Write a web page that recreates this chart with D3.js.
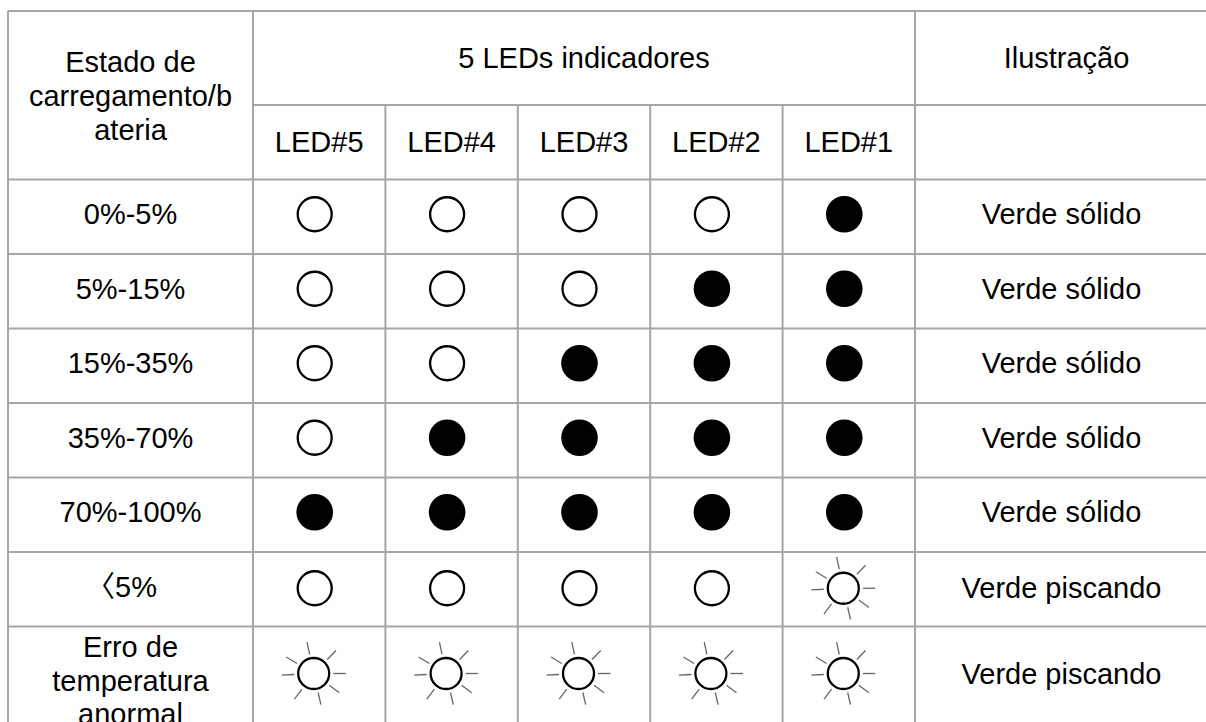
<!DOCTYPE html>
<html>
<head>
<meta charset="utf-8">
<script src="https://cdn.jsdelivr.net/npm/d3@7"></script>
<style>
  html, body { margin: 0; padding: 0; background: #fff; }
  svg { display: block; }
  text { font-family: "Liberation Sans", Arial, "Noto Sans CJK SC", sans-serif; fill: #000; }
</style>
</head>
<body>
<svg id="chart" width="1206" height="722"></svg>
<script>
// ---- data ----
const headerState = ["Estado de", "carregamento/b", "ateria"];
const headerGroup = "5 LEDs indicadores";
const headerIllustration = "Ilustração";
const ledLabels = ["LED#5", "LED#4", "LED#3", "LED#2", "LED#1"];
const rowLabels = [["0%-5%"], ["5%-15%"], ["15%-35%"], ["35%-70%"], ["70%-100%"], ["〈5%"], ["Erro de", "temperatura", "anormal"]];
// LED state per row, in LED#5..LED#1 order: 0 = off, 1 = solid on, 2 = blinking
const ledStates = [
  [0, 0, 0, 0, 1],
  [0, 0, 0, 1, 1],
  [0, 0, 1, 1, 1],
  [0, 1, 1, 1, 1],
  [1, 1, 1, 1, 1],
  [0, 0, 0, 0, 2],
  [2, 2, 2, 2, 2]
];
const illustration = ["Verde sólido", "Verde sólido", "Verde sólido", "Verde sólido", "Verde sólido", "Verde piscando", "Verde piscando"];

(function () {
// ---- layout ----
const svg = d3.select("#chart");
const tLeft = 8, tTop = 11, colStateR = 253, colLedR = 915, rightEdge = 1222;
const headSplit = 105, headBottom = 179.5;
const rowH = 74.5, lastRowH = 100;
const fs = 29;
const lineCol = "#a6a6a6";

const x = d3.scaleBand().domain(ledLabels).range([colStateR, colLedR]);
const rowIdx = d3.range(rowLabels.length);
const rowTop = i => headBottom + i * rowH;
const rowHeight = i => (i === rowLabels.length - 1 ? lastRowH : rowH);
const tBottom = rowTop(rowLabels.length - 1) + lastRowH;

const g = svg.append("g");

// grid lines
const gl = g.append("g").attr("stroke", lineCol).attr("stroke-width", 2).attr("fill", "none");
gl.append("line").attr("x1", tLeft).attr("x2", rightEdge).attr("y1", tTop).attr("y2", tTop);
gl.append("line").attr("x1", colStateR).attr("x2", rightEdge).attr("y1", headSplit).attr("y2", headSplit);
rowIdx.forEach(i => {
  gl.append("line").attr("x1", tLeft).attr("x2", rightEdge).attr("y1", rowTop(i)).attr("y2", rowTop(i));
});
gl.append("line").attr("x1", tLeft).attr("x2", rightEdge).attr("y1", tBottom).attr("y2", tBottom);
[tLeft, colStateR, colLedR, rightEdge].forEach(v => {
  gl.append("line").attr("x1", v).attr("x2", v).attr("y1", tTop).attr("y2", tBottom);
});
ledLabels.slice(1).forEach(l => {
  gl.append("line").attr("x1", x(l)).attr("x2", x(l)).attr("y1", headSplit).attr("y2", tBottom);
});

// header texts
const stateMid = (tLeft + colStateR) / 2;
const hs = g.append("text").attr("text-anchor", "middle").attr("font-size", fs);
headerState.forEach((t, k) => {
  hs.append("tspan").attr("x", stateMid).attr("y", 72 + k * 34).text(t);
});
g.append("text").attr("text-anchor", "middle").attr("font-size", fs)
  .attr("x", (colStateR + colLedR) / 2).attr("y", 68).text(headerGroup);
g.append("text").attr("text-anchor", "middle").attr("font-size", fs)
  .attr("x", (colLedR + rightEdge) / 2 - 2).attr("y", 68).text(headerIllustration);
g.selectAll("text.led").data(ledLabels).join("text").attr("class", "led")
  .attr("text-anchor", "middle").attr("font-size", fs)
  .attr("x", d => x(d) + x.bandwidth() / 2).attr("y", 152).text(d => d);

// body
const off = -4.5;
rowIdx.forEach(i => {
  const mid = rowTop(i) + rowHeight(i) / 2;
  const lines = rowLabels[i];
  const isLast = lines.length > 1;
  const t = g.append("text").attr("text-anchor", "middle").attr("font-size", fs);
  if (isLast) {
    lines.forEach((s, k) => t.append("tspan").attr("x", stateMid).attr("y", mid + 14 + (k - 1) * 33.3).text(s));
  } else {
    const isBracket = lines[0].startsWith("〈");
    t.attr("x", stateMid + (isBracket ? -9 : 0)).attr("y", mid + 7.5).text(lines[0]);
  }
  const cy = isLast ? mid - 3 : (ledStates[i].every(s => s !== 2) ? mid - 2.5 : mid - 1);
  ledStates[i].forEach((s, j) => {
    const cx = x(ledLabels[j]) + x.bandwidth() / 2 + off;
    if (s === 2) {
      const sg = g.append("g").attr("transform", `translate(${cx - 1},${cy})`);
      [0, 37, 77, 127, 177, 211, 258, 314].forEach(a => {
        const r = a * Math.PI / 180;
        sg.append("line")
          .attr("x1", 19.5 * Math.cos(r)).attr("y1", 19.5 * Math.sin(r))
          .attr("x2", 32 * Math.cos(r)).attr("y2", 32 * Math.sin(r))
          .attr("stroke", "#666").attr("stroke-width", 1.3);
      });
      sg.append("circle").attr("r", 15.5).attr("fill", "#fff").attr("stroke", "#000").attr("stroke-width", 2.3);
    } else {
      g.append("circle").attr("cx", cx).attr("cy", cy)
        .attr("r", s === 1 ? 18.3 : 17)
        .attr("fill", s === 1 ? "#000" : "#fff")
        .attr("stroke", "#000").attr("stroke-width", s === 1 ? 0 : 2.3);
    }
  });
  g.append("text").attr("text-anchor", "middle").attr("font-size", fs)
    .attr("x", (colLedR + rightEdge) / 2 - 7).attr("y", isLast ? mid + 7 : mid + 7.5 + (i === 5 ? 1.5 : 0))
    .text(illustration[i]);
});
})();
</script>
</body>
</html>
